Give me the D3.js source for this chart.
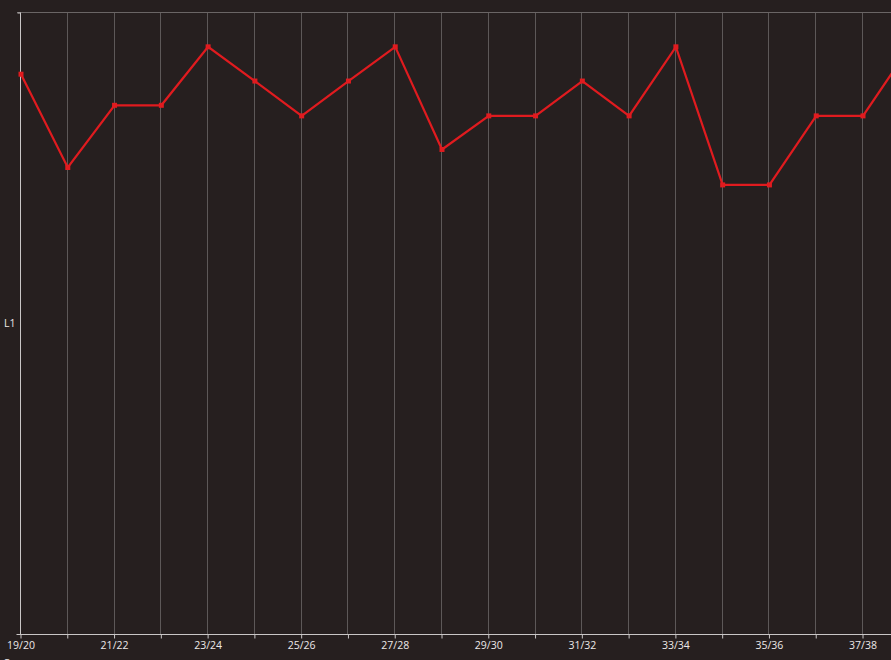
<!DOCTYPE html>
<html>
<head>
<meta charset="utf-8">
<script src="https://cdn.jsdelivr.net/npm/d3@7"></script>
<style>
  html, body { margin: 0; padding: 0; background: #261f1f; overflow: hidden; }
  svg { display: block; }
  text { font-family: "Open Sans", "DejaVu Sans", sans-serif; }
</style>
</head>
<body>
<svg id="chart" width="891" height="660"></svg>
<script>
const categories = ["19/20","20/21","21/22","22/23","23/24","24/25","25/26","26/27","27/28","28/29",
                    "29/30","30/31","31/32","32/33","33/34","34/35","35/36","36/37","37/38","38/39"];
const values = [90.0, 75.0, 85.0, 85.0, 94.4, 88.9, 83.3, 88.9, 94.4, 77.9,
                83.3, 83.3, 88.9, 83.3, 94.4, 72.2, 72.2, 83.3, 83.3, 94.4];
const tickLabels = categories.filter((d, i) => i % 2 === 0);
const yLabel = "L1";
const yDomain = [0, 100];

(function () {
const svg = d3.select("#chart");
const W = 891, H = 660;
const mLeft = 20, mTop = 12, mBottom = 634;
const step = (862 - 20) / 18;

svg.append("rect").attr("width", W).attr("height", H).attr("fill", "#261f1f");

const x = d3.scalePoint().domain(categories).range([mLeft, mLeft + step * (categories.length - 1)]);
const y = d3.scaleLinear().domain(yDomain).range([mBottom, mTop]);

// vertical grid
svg.append("g").selectAll("line").data(categories.slice(1)).join("line")
  .attr("x1", d => Math.round(x(d)) + 0.5).attr("x2", d => Math.round(x(d)) + 0.5)
  .attr("y1", mTop).attr("y2", mBottom)
  .attr("stroke", "#5d5858").attr("stroke-width", 1);

// top frame line
svg.append("line").attr("x1", mLeft - 3).attr("x2", W).attr("y1", mTop + 0.5).attr("y2", mTop + 0.5)
  .attr("stroke", "#6a6565").attr("stroke-width", 1);

// x axis
const xAxis = d3.axisBottom(x).tickSize(4).tickPadding(3)
  .tickFormat(d => tickLabels.includes(d) ? d : "");
const gx = svg.append("g").attr("transform", `translate(0.5,${mBottom + 0.5})`).call(xAxis);
gx.select(".domain").attr("stroke", "#c9c6c6").attr("d", `M${mLeft - 4},0H${W}`);
gx.selectAll(".tick line").attr("stroke", "#c9c6c6");
gx.selectAll(".tick text").attr("fill", "#ece8e8").attr("font-size", "10.5px");

// y axis
const yAxis = d3.axisLeft(y).tickValues([yDomain[1]]).tickSize(3).tickFormat("");
const gy = svg.append("g").attr("transform", `translate(${mLeft + 0.5},0.5)`).call(yAxis);
gy.select(".domain").attr("stroke", "#c9c6c6").attr("d", `M0,${mTop}V${mBottom}`);
gy.selectAll(".tick line").attr("stroke", "#c9c6c6");

svg.append("text").attr("x", 4).attr("y", y((yDomain[0] + yDomain[1]) / 2) + 4)
  .attr("fill", "#ece8e8").attr("font-size", "10.5px").text(yLabel);

// line
const line = d3.line().x((d, i) => x(categories[i]) + 1).y(d => y(d));
svg.append("path").datum(values).attr("d", line)
  .attr("fill", "none").attr("stroke", "#e01b1f").attr("stroke-width", 2.2)
  .attr("stroke-linejoin", "miter");

svg.append("g").selectAll("rect").data(values).join("rect")
  .attr("x", (d, i) => x(categories[i]) + 1 - 2.5).attr("y", d => y(d) - 2.5)
  .attr("width", 5).attr("height", 5).attr("fill", "#e01b1f");

// partially visible caption at the bottom
svg.append("text").attr("x", 3).attr("y", 667).attr("fill", "#ece8e8")
  .attr("font-size", "10.5px").text("C");
})();
</script>
</body>
</html>
